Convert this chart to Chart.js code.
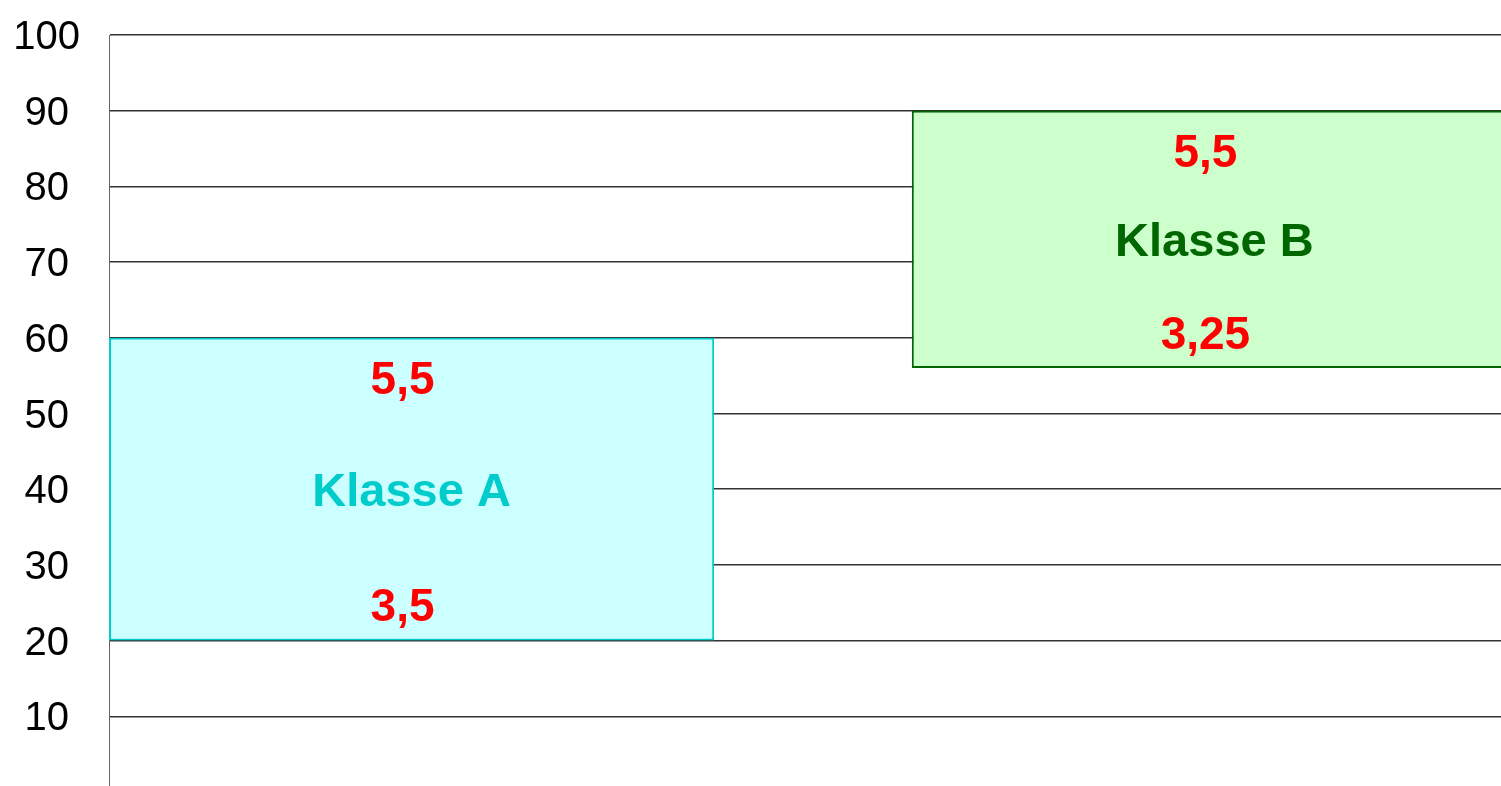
<!DOCTYPE html>
<html>
<head>
<meta charset="utf-8">
<title>Klasse A / Klasse B</title>
<script src="https://cdn.jsdelivr.net/npm/chart.js@4.4.1/dist/chart.umd.min.js"></script>
<style>
    html, body { margin: 0; padding: 0; background: #fff; overflow: hidden; }
    #wrap { width: 1521px; height: 830px; }
</style>
</head>
<body>
<div id="wrap"><canvas id="boxChart" width="1521" height="830"></canvas></div>
<script>
// Werte
const classNames = ['Klasse A', 'Klasse B'];
const xFrom = [0, 3.98];
const xTo = [3, 6.98];
const yFrom = [20, 56];
const yTo = [60, 90];
const topValues = ['5,5', '5,5'];
const bottomValues = ['3,5', '3,25'];
const yTicks = [10, 20, 30, 40, 50, 60, 70, 80, 90, 100];
const xMax = 7;

const fillColors = ['#ccffff', '#ccffcc'];
const lineColors = ['#00cccc', '#006600'];
const nameColors = ['#00cccc', '#006600'];
const fontFamily = '"Liberation Sans", Arial, sans-serif';

// bar width relative to the distance between the two box centres
const centres = classNames.map((n, i) => (xFrom[i] + xTo[i]) / 2);
const boxShare = (xTo[0] - xFrom[0]) / (centres[1] - centres[0]);

const boxText = {
    id: 'boxText',
    afterDatasetsDraw(chart) {
        const ctx = chart.ctx;
        const bars = chart.getDatasetMeta(0).data;
        ctx.save();
        ctx.textAlign = 'center';
        ctx.textBaseline = 'middle';
        bars.forEach((bar, i) => {
            const mid = (bar.y + bar.base) / 2;
            ctx.font = 'bold 46px ' + fontFamily;
            ctx.fillStyle = '#ff0000';
            ctx.fillText(topValues[i], bar.x - 9, bar.y + 44);
            ctx.fillText(bottomValues[i], bar.x - 9, bar.base - 32);
            ctx.font = 'bold 47px ' + fontFamily;
            ctx.fillStyle = nameColors[i];
            ctx.fillText(classNames[i], bar.x, mid + 4);
        });
        ctx.restore();
    }
};

new Chart(document.getElementById('boxChart'), {
    type: 'bar',
    data: {
        labels: classNames,
        datasets: [{
            data: classNames.map((n, i) => ({ x: centres[i], y: [yFrom[i], yTo[i]] })),
            backgroundColor: fillColors,
            borderColor: lineColors,
            borderWidth: 2,
            borderSkipped: false,
            categoryPercentage: boxShare,
            barPercentage: 1
        }]
    },
    options: {
        responsive: false,
        animation: false,
        layout: { padding: { top: 35, right: 0, bottom: 38, left: 0 } },
        plugins: {
            legend: { display: false },
            tooltip: { enabled: false }
        },
        scales: {
            x: {
                type: 'linear',
                min: 0,
                max: xMax,
                offset: false,
                display: false,
                ticks: { stepSize: xMax }
            },
            y: {
                min: 0,
                max: 100,
                afterBuildTicks: (scale) => { scale.ticks = yTicks.map(v => ({ value: v })); },
                afterFit: (scale) => {
                    scale.width = 109;
                    scale.paddingTop = 0;
                    scale.paddingBottom = 0;
                },
                grid: { color: '#333', lineWidth: 1.5, drawTicks: false },
                border: { color: '#666', width: 1 },
                ticks: {
                    color: '#000',
                    font: { family: fontFamily, size: 40 },
                    padding: 29,
                    crossAlign: 'center',
                    labelOffset: 3
                }
            }
        }
    },
    plugins: [boxText]
});
</script>
</body>
</html>
